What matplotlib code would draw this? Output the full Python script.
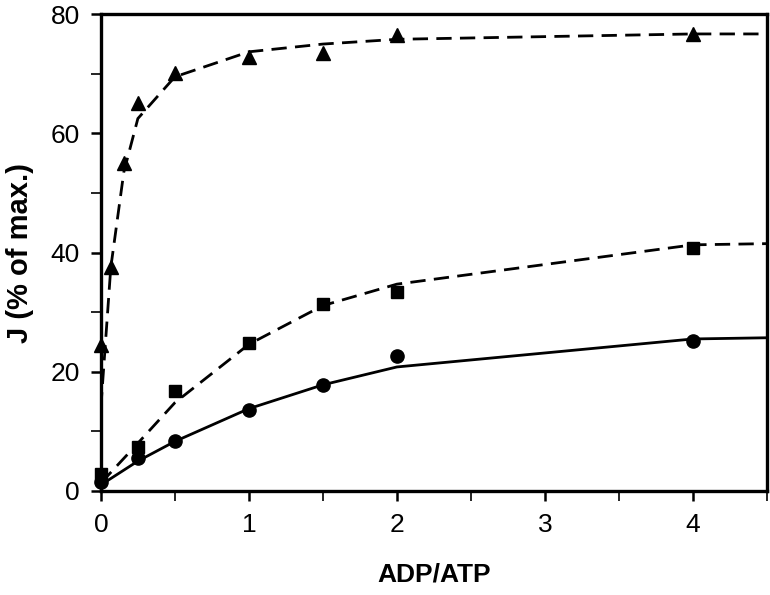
import matplotlib
matplotlib.use("Agg")
import matplotlib.pyplot as plt
from matplotlib.ticker import MultipleLocator

plt.rcParams['font.family'] = ['Liberation Sans', 'DejaVu Sans']

# measured points
x_tri = [0, 0.067, 0.155, 0.25, 0.5, 1, 1.5, 2, 4]
y_tri = [24.5, 37.5, 55, 65.1, 70.2, 72.8, 73.5, 76.6, 76.7]
x_sq = [0, 0.25, 0.5, 1, 1.5, 2, 4]
y_sq = [2.8, 7.3, 16.7, 24.8, 31.4, 33.3, 40.7]
x_ci = [0, 0.25, 0.5, 1, 1.5, 2, 4]
y_ci = [1.5, 5.6, 8.4, 13.6, 17.8, 22.6, 25.1]

# fitted curves
xf_tri = [0, 0.067, 0.155, 0.25, 0.5, 1, 1.5, 2, 4, 4.5]
yf_tri = [14, 37.5, 53.5, 62.5, 69.5, 73.7, 75.0, 75.8, 76.7, 76.7]
xf_sq = [0, 0.25, 0.5, 1, 1.5, 2, 4, 4.5]
yf_sq = [1.3, 8.0, 14.8, 24.6, 31.1, 34.7, 41.3, 41.5]
xf_ci = [0, 0.25, 0.5, 1, 1.5, 2, 4, 4.5]
yf_ci = [1.0, 5.0, 8.3, 13.8, 17.8, 20.8, 25.5, 25.7]

fig = plt.figure(figsize=(7.7, 5.95), dpi=100)
ax = fig.add_axes([0.131, 0.175, 0.865, 0.801])

ax.plot(xf_tri, yf_tri, color='black', lw=2, dashes=(5.5, 3))
ax.plot(xf_sq, yf_sq, color='black', lw=2, dashes=(5.5, 3))
ax.plot(xf_ci, yf_ci, color='black', lw=2)

ax.plot(x_tri, y_tri, '^', color='black', ms=10.5, clip_on=False)
ax.plot(x_sq, y_sq, 's', color='black', ms=8.5, clip_on=False)
ax.plot(x_ci, y_ci, 'o', color='black', ms=9.5, clip_on=False)

ax.set_xlim(0, 4.5)
ax.set_ylim(0, 80)
ax.xaxis.set_major_locator(MultipleLocator(1))
ax.xaxis.set_minor_locator(MultipleLocator(0.5))
ax.yaxis.set_major_locator(MultipleLocator(20))
ax.yaxis.set_minor_locator(MultipleLocator(10))

for s in ax.spines.values():
    s.set_linewidth(2.4)

ax.tick_params(which='major', direction='out', length=7, width=1.8, labelsize=19)
ax.tick_params(which='minor', direction='out', length=7, width=1.2)
ax.tick_params(axis='x', pad=9)
ax.tick_params(axis='y', pad=8)

ax.set_xlabel('ADP/ATP', fontsize=19, fontweight='bold', labelpad=18)
ax.set_ylabel('J (% of max.)', fontsize=21, fontweight='bold', labelpad=12)

fig.savefig('out.png', dpi=100)
